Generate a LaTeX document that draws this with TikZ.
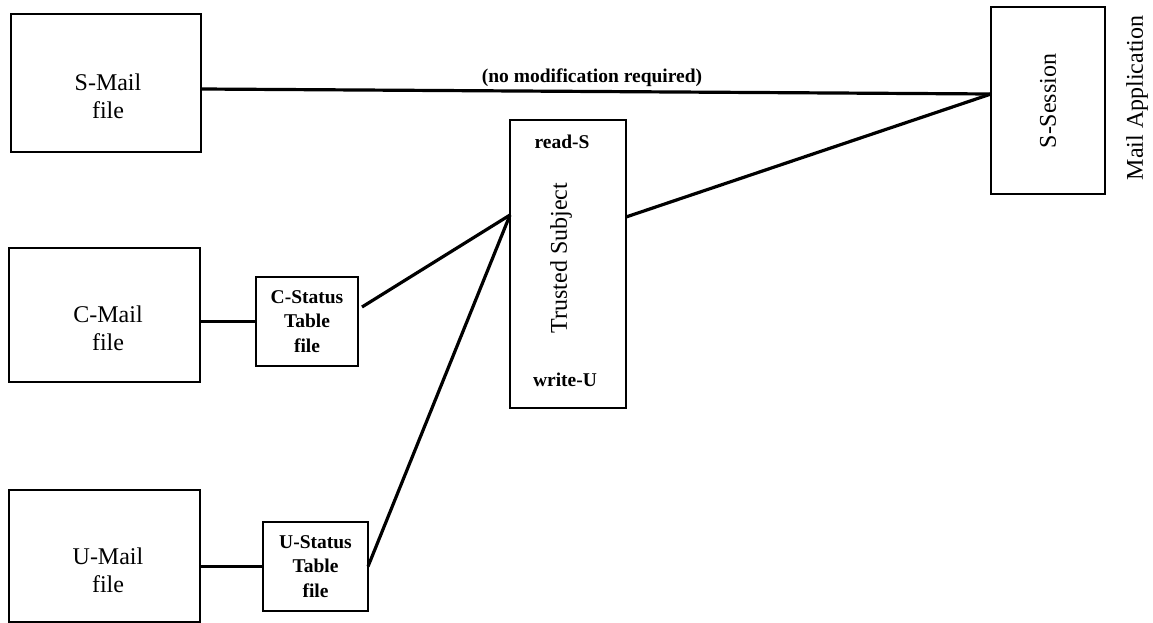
\documentclass[tikz,border=0pt]{standalone}
\usepackage{fontspec}
\setmainfont{Liberation Serif}
\begin{document}
\begin{tikzpicture}[x=1pt,y=-1pt,
  box/.style={draw=black, line width=2pt, outer sep=0pt, inner sep=0pt},
  conn/.style={draw=black, line width=3.2pt},
  rtext/.style={font=\fontsize{24}{28}\selectfont, align=center, inner sep=0pt},
  btext/.style={font=\bfseries\fontsize{19.5}{24.5}\selectfont, align=center, inner sep=0pt}]
\useasboundingbox (0,0) rectangle (1153,623);

% mail files
\node[box, minimum width=190pt, minimum height=138pt] (smail) at (106,83) {};
\node[rtext] (smailt) at (108,96) {S-Mail\\file};
\node[box, minimum width=191pt, minimum height=134pt] (cmail) at (104.5,315) {};
\node[rtext] (cmailt) at (108,328) {C-Mail\\file};
\node[box, minimum width=191pt, minimum height=132pt] (umail) at (104.5,556) {};
\node[rtext] (umailt) at (108,570) {U-Mail\\file};

% status tables
\node[box, btext, minimum width=102pt, minimum height=89pt] (cstat) at (307,321.5) {C-Status\\Table\\file};
\node[box, btext, minimum width=105pt, minimum height=89pt] (ustat) at (315.5,566.5) {U-Status\\Table\\file};

% trusted subject
\node[box, minimum width=116pt, minimum height=288pt] (ts) at (568,264) {};
\node[btext] (tsread) at (562,142) {read-S};
\node[rtext, rotate=90] (tslabel) at (561,258) {Trusted Subject};
\node[btext] (tswrite) at (565,380) {write-U};

% mail application session
\node[box, minimum width=114pt, minimum height=187pt] (ssess) at (1048,100.5) {};
\node[rtext, rotate=90] (ssesst) at (1048,101) {S-Session};
\node[rtext, rotate=90] (mailapp) at (1137,98) {Mail Application};

% connection points
\coordinate (smout) at ([yshift=-6pt]smail.east);
\coordinate (ssin) at ([yshift=6.5pt]ssess.west);
\coordinate (tsin) at ([yshift=49pt]ts.west);
\coordinate (tsout) at ([yshift=47pt]ts.east);
\coordinate (csout) at ([xshift=4pt,yshift=14.5pt]cstat.east);

% connectors
\draw[conn] (smout) -- (ssin);
\node[btext] (nomod) at (592,78) {(no modification required)};
\draw[conn] (tsout) -- (ssin);
\draw[conn] (cstat.west) -- (cstat.west -| cmail.east);
\draw[conn] (ustat.west) -- (ustat.west -| umail.east);
\draw[conn] (csout) -- (tsin);
\draw[conn] (ustat.east) -- (tsin);
\end{tikzpicture}
\end{document}
